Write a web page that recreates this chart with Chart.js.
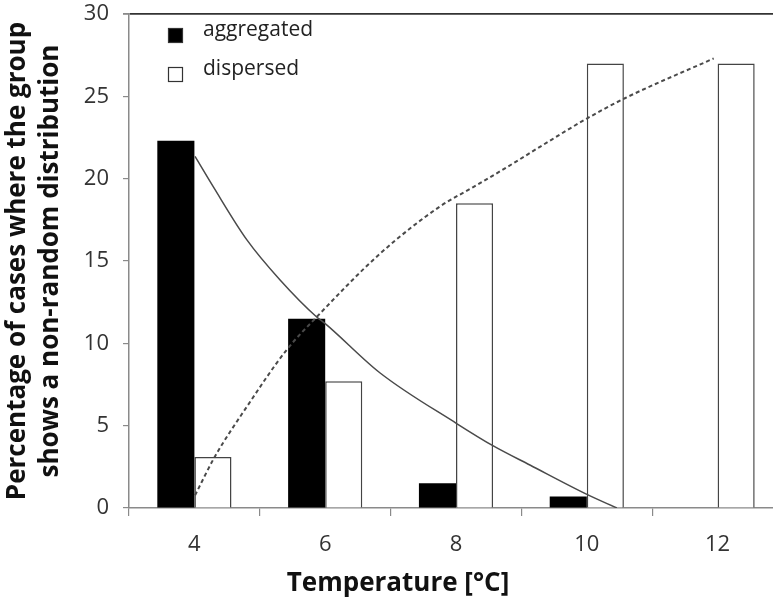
<!DOCTYPE html>
<html>
<head>
<meta charset="utf-8">
<script src="https://cdn.jsdelivr.net/npm/chart.js@4/dist/chart.umd.min.js"></script>
<style>
  html, body { margin: 0; padding: 0; background: #fff; overflow: hidden; }
  #wrap { width: 773px; height: 605px; overflow: hidden; }
</style>
</head>
<body>
<div id="wrap"><canvas id="myChart" width="790" height="605"></canvas></div>
<script>
// temperatures (°C) where the bars sit, also the x tick labels
const temperatures = [4, 6, 8, 10, 12];
// tick marks between the groups
const boundaries = [3, 5, 7, 9, 11, 13];

// bar values, % of cases
const aggregated = [22.3, 11.5, 1.5, 0.7, 0];
const dispersed = [3.1, 7.7, 18.5, 27.0, 27.0];

// trend curves: temperature / percentage
const aggTrendT = [4.01, 4.29, 4.8, 5.31, 5.87, 6.0, 6.84, 8.01, 8.57, 9.13, 10.01, 10.46];
const aggTrendY = [21.35, 19.5, 16.3, 13.85, 11.6, 11.2, 8.2, 5.13, 3.77, 2.61, 0.81, 0];
const dispTrendT = [4.01, 4.31, 4.8, 5.41, 5.87, 6.84, 7.75, 8.27, 8.78, 9.29, 10.0, 10.59, 11.94];
const dispTrendY = [0.77, 3.1, 6.14, 9.6, 11.6, 15.45, 18.3, 19.5, 20.7, 21.95, 23.65, 24.9, 27.3];

// y axis ticks
const yTicks = [0, 5, 10, 15, 20, 25, 30];

const toPoints = (xs, ys) => xs.map((x, i) => ({ x: x, y: ys[i] }));
const xTicks = boundaries.concat(temperatures).sort((a, b) => a - b);

// legend inside the plot (top left) and the x axis title
const extraText = {
  id: "extraText",
  afterDraw(chart) {
    const ctx = chart.ctx;
    const items = [
      { ds: chart.data.datasets[0], box: [168, 28], text: [203, 30] },
      { ds: chart.data.datasets[1], box: [168, 67], text: [203, 69] }
    ];
    ctx.save();
    ctx.font = "21px 'Open Sans'";
    ctx.textBaseline = "middle";
    items.forEach(it => {
      ctx.fillStyle = it.ds.backgroundColor;
      ctx.fillRect(it.box[0], it.box[1], 15, 15);
      ctx.strokeStyle = "#333";
      ctx.lineWidth = 1.2;
      ctx.strokeRect(it.box[0] + 0.5, it.box[1] + 0.5, 14, 14);
      ctx.fillStyle = "#222";
      ctx.fillText(it.ds.label, it.text[0], it.text[1]);
    });
    ctx.font = "bold 26px 'Open Sans'";
    ctx.textAlign = "center";
    ctx.fillStyle = "#111";
    ctx.fillText("Temperature [°C]", 398, 584);
    ctx.restore();
  }
};

const ctx = document.getElementById("myChart").getContext("2d");
const chart = new Chart(ctx, {
  type: "bar",
  data: {
    datasets: [
      {
        type: "bar",
        label: "aggregated",
        data: toPoints(temperatures, aggregated),
        backgroundColor: "#000",
        borderWidth: 0,
        // ruler step is one tick (1 °C = half a group), so > 1 here
        categoryPercentage: 1.134,
        barPercentage: 1,
        order: 2
      },
      {
        type: "bar",
        label: "dispersed",
        data: toPoints(temperatures, dispersed),
        backgroundColor: "#fff",
        borderColor: "#444",
        borderWidth: 1.5,
        categoryPercentage: 1.134,
        barPercentage: 1,
        order: 2
      },
      {
        type: "line",
        label: "aggregated trend",
        data: toPoints(aggTrendT, aggTrendY),
        borderColor: "#4a4a4a",
        borderWidth: 1.5,
        pointRadius: 0,
        cubicInterpolationMode: "monotone",
        fill: false,
        order: 1
      },
      {
        type: "line",
        label: "dispersed trend",
        data: toPoints(dispTrendT, dispTrendY),
        borderColor: "#4a4a4a",
        borderWidth: 2,
        borderDash: [4, 3],
        pointRadius: 0,
        cubicInterpolationMode: "monotone",
        fill: false,
        order: 1
      }
    ]
  },
  options: {
    responsive: false,
    animation: false,
    devicePixelRatio: 1,
    layout: { padding: { top: 14, right: 7, left: 0, bottom: 0 } },
    plugins: { legend: { display: false }, tooltip: { enabled: false } },
    scales: {
      x: {
        type: "linear",
        min: 3,
        max: 13,
        offset: false,
        afterBuildTicks(scale) { scale.ticks = xTicks.map(v => ({ value: v })); },
        grid: {
          display: true,
          offset: false,
          drawOnChartArea: false,
          tickLength: 8,
          color: c => (c.tick && boundaries.includes(c.tick.value) ? "#8a8a8a" : "rgba(0,0,0,0)"),
          lineWidth: 1.2
        },
        border: { color: "#8a8a8a", width: 1.5 },
        ticks: {
          autoSkip: false,
          maxRotation: 0,
          callback: v => (temperatures.includes(v) ? String(v) : ""),
          font: { family: "'Open Sans'", size: 22 },
          color: "#333",
          padding: 16
        },
        afterFit(scale) {
          scale.height = 97;
          scale.paddingLeft = 0;
          scale.paddingRight = 0;
        }
      },
      y: {
        min: 0,
        max: 30,
        afterBuildTicks(scale) { scale.ticks = yTicks.map(v => ({ value: v })); },
        grid: {
          color: c => (c.tick && c.tick.value === 30 ? "#333" : "rgba(0,0,0,0)"),
          tickColor: "#8a8a8a",
          lineWidth: c => (c.tick && c.tick.value === 30 ? 1.8 : 1.2),
          tickLength: 6
        },
        border: { color: "#8a8a8a", width: 1.5 },
        ticks: { font: { family: "'Open Sans'", size: 22 }, color: "#333", padding: 14 },
        title: {
          display: true,
          text: ["Percentage of cases where the group", "shows a non-random distribution"],
          font: { family: "'Open Sans'", size: 26, weight: "bold", lineHeight: 1.27 },
          color: "#111",
          padding: { top: 1.5, bottom: 0 }
        },
        afterFit(scale) {
          scale.width = 129;
          scale.paddingTop = 0;
          scale.paddingBottom = 0;
        }
      }
    }
  },
  plugins: [extraText]
});
</script>
</body>
</html>
